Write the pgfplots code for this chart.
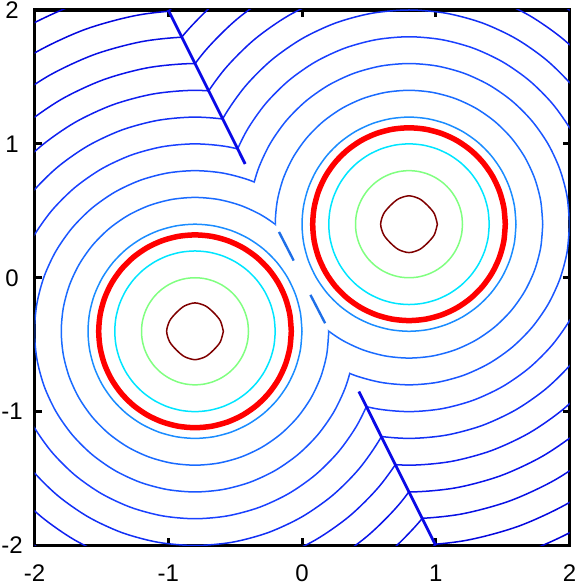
\documentclass[border=0pt]{standalone}
\usepackage{pgfplots}
\pgfplotsset{compat=1.18}
\usepackage{pgfplotstable}
\usepackage{fontspec}
\setmainfont{Liberation Sans}

\definecolor{c02}{HTML}{7F0000}
\definecolor{c04}{HTML}{80FF80}
\definecolor{c06}{HTML}{00E5FF}
\definecolor{c08}{HTML}{1A8CFF}
\definecolor{c10}{HTML}{1A6BFF}
\definecolor{c12}{HTML}{1A55FF}
\definecolor{c14}{HTML}{1A40FF}
\definecolor{c16}{HTML}{1230F5}
\definecolor{c18}{HTML}{1020F0}
\definecolor{c20}{HTML}{0A14EA}
\definecolor{c22}{HTML}{0810E4}
\definecolor{c24}{HTML}{0508DE}
\definecolor{c26}{HTML}{0000D8}
\definecolor{cseg}{HTML}{1F6FE8}
\definecolor{cbis}{HTML}{0A0AE6}

% unit circle, 10 degree steps
\pgfplotstableread{
c s
1 0
0.98481 0.17365
0.93969 0.34202
0.86603 0.5
0.76604 0.64279
0.64279 0.76604
0.5 0.86603
0.34202 0.93969
0.17365 0.98481
0 1
-0.17365 0.98481
-0.34202 0.93969
-0.5 0.86603
-0.64279 0.76604
-0.76604 0.64279
-0.86603 0.5
-0.93969 0.34202
-0.98481 0.17365
-1 0
-0.98481 -0.17365
-0.93969 -0.34202
-0.86603 -0.5
-0.76604 -0.64279
-0.64279 -0.76604
-0.5 -0.86603
-0.34202 -0.93969
-0.17365 -0.98481
0 -1
0.17365 -0.98481
0.34202 -0.93969
0.5 -0.86603
0.64279 -0.76604
0.76604 -0.64279
0.86603 -0.5
0.93969 -0.34202
0.98481 -0.17365
1 0
}\unitcircle

% innermost (dark red) contour, relative to its centre
\pgfplotstableread{
c s
0.212 0
0.1894 0.0785
0.1393 0.1393
0.0785 0.1894
0 0.212
-0.0785 0.1894
-0.1393 0.1393
-0.1894 0.0785
-0.212 0
-0.1894 -0.0785
-0.1393 -0.1393
-0.0785 -0.1894
0 -0.212
0.0785 -0.1894
0.1393 -0.1393
0.1894 -0.0785
0.212 0
}\blob

% ring: centre x, centre y, radius, style
\newcommand{\ring}[4]{%
  \addplot[line width=1.5pt, smooth, color=#4]
    table[x expr={#1+#3*\thisrow{c}}, y expr={#2+#3*\thisrow{s}}] {\unitcircle};}

\begin{document}
\begin{tikzpicture}
\useasboundingbox (0,0) rectangle (578pt,586pt);
\begin{axis}[
  at={(34.5pt,40.5pt)}, anchor=south west,
  width=535pt, height=535.5pt, scale only axis,
  xmin=-2, xmax=2, ymin=-2, ymax=2,
  xtick={-2,-1,0,1,2}, ytick={-2,-1,0,1,2},
  xticklabels={-2,-1,0,1,2}, yticklabels={-2,-1,0,1,2},
  tick label style={font=\fontsize{24}{28}\selectfont},
  xticklabel style={inner sep=0pt, anchor=north, yshift=-19.5pt},
  yticklabel style={inner sep=0pt, anchor=center, xshift=-22.5pt},
  axis line style={line width=3.3pt, black},
  tick style={line width=3pt, black},
  major tick length=7pt,
]
% contours around the upper-right centre, clipped to its side of y=-2x
\begin{scope}
\clip (-1.6,3.2) -- (1.6,-3.2) -- (3,-3.2) -- (3,3.2) -- cycle;
\ring{0.8}{0.4}{0.4}{c04}
\ring{0.8}{0.4}{0.6}{c06}
\ring{0.8}{0.4}{0.8}{c08}
\ring{0.8}{0.4}{1.0}{c10}
\ring{0.8}{0.4}{1.2}{c12}
\ring{0.8}{0.4}{1.4}{c14}
\ring{0.8}{0.4}{1.6}{c16}
\ring{0.8}{0.4}{1.8}{c18}
\ring{0.8}{0.4}{2.0}{c20}
\ring{0.8}{0.4}{2.2}{c22}
\ring{0.8}{0.4}{2.4}{c24}
\ring{0.8}{0.4}{2.6}{c26}
\end{scope}
% contours around the lower-left centre
\begin{scope}
\clip (-1.6,3.2) -- (1.6,-3.2) -- (-3,-3.2) -- (-3,3.2) -- cycle;
\ring{-0.8}{-0.4}{0.4}{c04}
\ring{-0.8}{-0.4}{0.6}{c06}
\ring{-0.8}{-0.4}{0.8}{c08}
\ring{-0.8}{-0.4}{1.0}{c10}
\ring{-0.8}{-0.4}{1.2}{c12}
\ring{-0.8}{-0.4}{1.4}{c14}
\ring{-0.8}{-0.4}{1.6}{c16}
\ring{-0.8}{-0.4}{1.8}{c18}
\ring{-0.8}{-0.4}{2.0}{c20}
\ring{-0.8}{-0.4}{2.2}{c22}
\ring{-0.8}{-0.4}{2.4}{c24}
\ring{-0.8}{-0.4}{2.6}{c26}
\end{scope}
% innermost contours
\addplot[color=c02, line width=1.5pt, smooth]
  table[x expr={0.8+\thisrow{c}}, y expr={0.4+\thisrow{s}}] {\blob};
\addplot[color=c02, line width=1.5pt, smooth]
  table[x expr={-0.8+\thisrow{c}}, y expr={-0.4+\thisrow{s}}] {\blob};
% segments along the dividing line
\addplot[color=cbis, line width=2.8pt] coordinates {(-1,2) (-0.425,0.85)};
\addplot[color=cbis, line width=2.8pt] coordinates {(0.425,-0.85) (1,-2)};
\addplot[color=cseg, line width=2.4pt] coordinates {(-0.172,0.342) (-0.062,0.128)};
\addplot[color=cseg, line width=2.4pt] coordinates {(0.063,-0.128) (0.173,-0.34)};
% thick red contour
\ring{0.8}{0.4}{0.72}{red, line width=5.5pt}
\ring{-0.8}{-0.4}{0.72}{red, line width=5.5pt}
\end{axis}
\end{tikzpicture}
\end{document}
